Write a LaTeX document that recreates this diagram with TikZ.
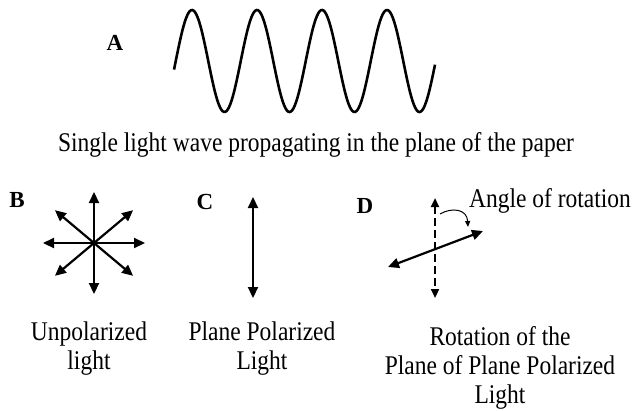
\documentclass[tikz,border=0pt]{standalone}
\usepackage{fontspec}
\setmainfont[FakeStretch=0.87]{Liberation Serif}
\newfontfamily\tagfont{Liberation Serif}
\usetikzlibrary{positioning,arrows.meta}

\begin{document}
\begin{tikzpicture}[
  x=1pt,y=-1pt,
  >={Triangle[length=11pt,width=10pt]},
  every node/.style={inner sep=0pt},
  tag/.style={font=\tagfont\fontsize{23}{27}\selectfont\bfseries},
  txt/.style={font=\fontsize{27}{29}\selectfont},
  caption/.style={txt,align=center,anchor=north},
  ray/.style={->,line width=2.2pt},
  twoway/.style={<->,line width=2.2pt},
  wave/.style={line width=2.6pt}
]
\useasboundingbox (0,0) rectangle (637,410);

% A: the wave
\node[tag] (labA) at (115,43) {A};
\draw[wave] plot[domain=174:435,samples=200,smooth] (\x,{61-51*cos((\x-192)*5.53846)});
\node[txt,anchor=base] (wavetxt) at (316,151)
  {Single light wave propagating in the plane of the paper};

% B: unpolarized
\node[tag] (labB) at (17,200) {B};
\coordinate (bc) at (94,243);
\foreach \a in {0,40,90,140,180,220,270,320}
  \draw[ray] (bc) -- ++(\a:51);
\node[caption] (unpol) at (89,321.5) {Unpolarized\\light};

% C: plane polarized
\node[tag] (labC) at (205,202) {C};
\coordinate (ctop) at (253,197);
\coordinate (cbot) at (253,298);
\draw[twoway] (ctop) -- (cbot);
\node[caption] (plane) at (262,321.5) {Plane Polarized\\Light};

% D: rotation
\node[tag] (labD) at (365,206) {D};
\coordinate (dtop) at (435,198);
\coordinate (dbot) at (435,298);
\coordinate (dleft) at (388,267);
\coordinate (dright) at (483,231);
\draw[<->,>={Triangle[length=9pt,width=8pt]},line width=2.2pt,dash pattern=on 8pt off 4pt] (dtop) -- (dbot);
\draw[twoway] (dleft) -- (dright);
\coordinate (turnA) at (440,214);
\coordinate (turnB) at (468,227);
\draw[-{Triangle[length=6pt,width=5pt]},line width=1pt] (turnA) .. controls (452,207) and (467,209) .. (turnB);
\node[txt,anchor=base] (angle) at (550,207) {Angle of rotation};
\node[caption] (rot) at (500,326.5) {Rotation of the\\Plane of Plane Polarized\\Light};
\end{tikzpicture}
\end{document}
